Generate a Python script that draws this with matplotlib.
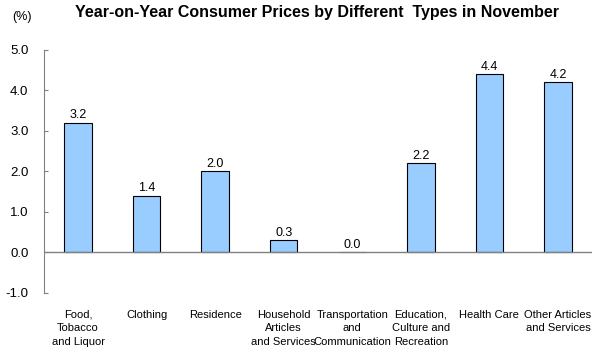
import matplotlib.pyplot as plt

categories = ["Food,\nTobacco\nand Liquor", "Clothing", "Residence",
              "Household\nArticles\nand Services", "Transportation\nand\nCommunication",
              "Education,\nCulture and\nRecreation", "Health Care",
              "Other Articles\nand Services"]
values = [3.2, 1.4, 2.0, 0.3, 0.0, 2.2, 4.4, 4.2]
yticks = [-1.0, 0.0, 1.0, 2.0, 3.0, 4.0, 5.0]

plt.rcParams['font.family'] = ['Liberation Sans Narrow', 'Liberation Sans', 'DejaVu Sans']

fig = plt.figure(figsize=(6, 3.52), dpi=100)
ax = fig.add_axes([0.073, 0.168, 0.914, 0.69])

x = range(len(values))
ax.bar(x, values, width=0.4, color="#99CCFF", edgecolor="black", linewidth=0.8, zorder=3)
for i, v in enumerate(values):
    ax.annotate(f"{v:.1f}", (i, v), xytext=(0, 1), textcoords="offset points",
                ha="center", va="bottom", fontsize=9)

ax.axhline(0, color="#808080", linewidth=1, zorder=4)
ax.set_xlim(-0.5, len(values) - 0.5)
ax.set_ylim(-1, 5)
ax.set_yticks(yticks)
ax.set_yticklabels([f"{t:.1f}" for t in yticks], fontsize=9.5)
ax.tick_params(axis="y", direction="in", length=3, color="#808080", pad=11)
ax.set_xticks(list(x))
ax.set_xticklabels(categories, fontsize=8, va="top", linespacing=1.45)
ax.tick_params(axis="x", length=0, pad=12)

for s in ["top", "right", "bottom"]:
    ax.spines[s].set_visible(False)
ax.spines["left"].set_color("#808080")

fig.text(0.528, 0.965, "Year-on-Year Consumer Prices by Different  Types in November",
         ha="center", va="center", fontsize=11.5, fontweight="bold",
         family=['Liberation Sans', 'DejaVu Sans'])
fig.text(0.037, 0.952, "(%)", ha="center", va="center", fontsize=9)

fig.savefig("out.png", dpi=100)
